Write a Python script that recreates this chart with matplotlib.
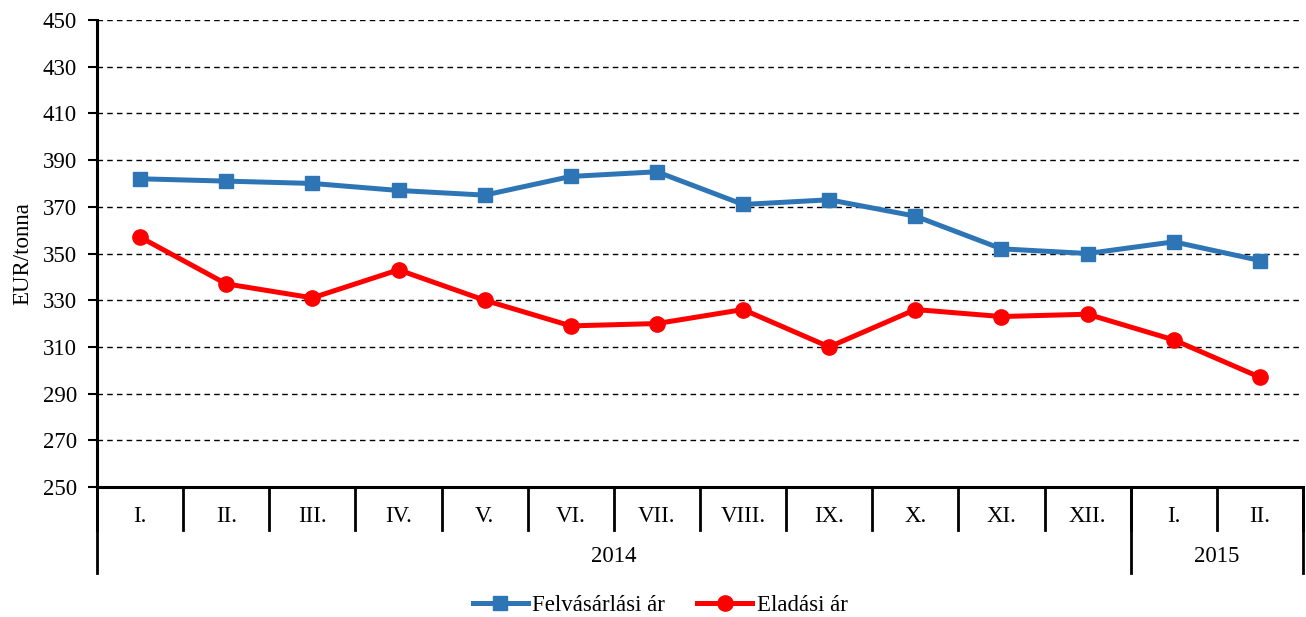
import matplotlib
matplotlib.use("Agg")
import matplotlib.pyplot as plt
import matplotlib.transforms as mtransforms

months = ["I.", "II.", "III.", "IV.", "V.", "VI.", "VII.", "VIII.", "IX.", "X.", "XI.", "XII.", "I.", "II."]
years = ["2014", "2015"]
year_counts = [12, 2]
felvasarlasi = [382, 381, 380, 377, 375, 383, 385, 371, 373, 366, 352, 350, 355, 347]
eladasi = [357, 337, 331, 343, 330, 319, 320, 326, 310, 326, 323, 324, 313, 297]
yticks = list(range(250, 451, 20))

plt.rcParams['font.family'] = ['Liberation Serif', 'DejaVu Serif']
FS = 16.5

fig = plt.figure(figsize=(13.06, 6.17), dpi=100)
ax = fig.add_axes([97/1306, 1-487/617, (1303-97)/1306, (487-20)/617])

x = list(range(len(months)))
ax.plot(x, felvasarlasi, color="#2E75B6", lw=3.6, marker="s", ms=10.5, label="Felvásárlási ár", zorder=3)
ax.plot(x, eladasi, color="#FF0000", lw=3.6, marker="o", ms=11, label="Eladási ár", zorder=3)

ax.set_xlim(-0.5, len(months) - 0.5)
ax.set_ylim(250, 450)
ax.set_yticks(yticks)
ax.set_yticklabels([str(v) for v in yticks], fontsize=FS)
ax.tick_params(axis='y', direction='out', length=6.5, width=1.5, pad=8)
ax.set_xticks([])
for y in yticks[1:]:
    ax.axhline(y, color="black", lw=1.0, ls=(0, (4, 3)), zorder=1)

for s in ["top", "right"]:
    ax.spines[s].set_visible(False)
ax.spines["left"].set_linewidth(2.2)
ax.spines["bottom"].set_linewidth(2.2)

ax.set_ylabel("EUR/tonna", fontsize=FS, labelpad=7)

trans = mtransforms.blended_transform_factory(ax.transData, fig.transFigure)
def fy(py):
    return 1 - py / 617

# month separators and labels
for i, m in enumerate(months):
    ax.text(i, fy(516), m, transform=trans, ha="center", va="center", fontsize=FS)
for i in range(len(months) + 1):
    ax.plot([i - 0.5, i - 0.5], [fy(487), fy(530)], transform=trans, color="black", lw=2, clip_on=False)

# year groups
start = 0
bounds = [0]
for ylab, cnt in zip(years, year_counts):
    mid = start + (cnt - 1) / 2
    ax.text(mid, fy(557), ylab, transform=trans, ha="center", va="center", fontsize=FS)
    start += cnt
    bounds.append(start)
for b in bounds:
    ax.plot([b - 0.5, b - 0.5], [fy(487), fy(573)], transform=trans, color="black", lw=2, clip_on=False)

leg = fig.legend(loc="center", bbox_to_anchor=(660/1306, 1 - 605/617), ncol=2, frameon=False,
                 fontsize=FS, handlelength=2.4, columnspacing=1.4, handletextpad=0.2)

fig.savefig("out.png", dpi=100)
